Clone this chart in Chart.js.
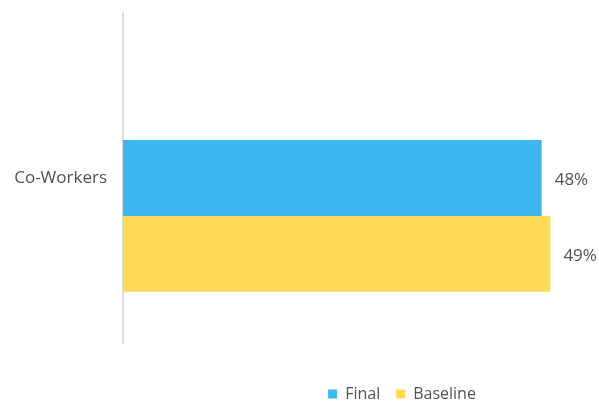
<!DOCTYPE html>
<html>
<head>
<meta charset="utf-8">
<script src="https://cdn.jsdelivr.net/npm/chart.js@4/dist/chart.umd.min.js"></script>
<style>
  html, body { margin: 0; padding: 0; background: #ffffff; }
  #wrap { width: 599px; height: 403px; position: relative; }
</style>
</head>
<body>
<div id="wrap"><canvas id="chart"></canvas></div>
<script>
// Survey result: share of respondents per group
const categories = ['Co-Workers'];
const finalValues = [48];
const baselineValues = [49];
const seriesNames = ['Final', 'Baseline'];

const TEXT = '#525252';
const FONT = "'Open Sans', 'DejaVu Sans', sans-serif";

// Value labels to the right of each bar
const barLabels = {
  id: 'barLabels',
  afterDatasetsDraw(chart) {
    const ctx = chart.ctx;
    ctx.save();
    ctx.font = '17px ' + FONT;
    ctx.fillStyle = TEXT;
    ctx.textAlign = 'left';
    ctx.textBaseline = 'middle';
    chart.data.datasets.forEach((ds, i) => {
      if (!ds.label) return;
      chart.getDatasetMeta(i).data.forEach((bar, j) => {
        const v = ds.data[j];
        if (v == null) return;
        ctx.fillText(v + '%', bar.x + 13, bar.y + 2.5);
      });
    });
    ctx.restore();
  }
};

// Nudge the legend block under the plot
const legendOffset = {
  id: 'legendOffset',
  afterLayout(chart) {
    const lg = chart.legend;
    if (!lg) return;
    const dx = 105, dy = 27;
    lg.left += dx; lg.right += dx;
    lg.top += dy; lg.bottom += dy;
  }
};

new Chart(document.getElementById('chart'), {
  type: 'bar',
  data: {
    labels: categories,
    datasets: [
      { label: '', data: [null], backgroundColor: 'rgba(0,0,0,0)' },
      { label: seriesNames[0], data: finalValues, backgroundColor: '#3DB7F1', borderWidth: 0 },
      { label: seriesNames[1], data: baselineValues, backgroundColor: '#FFDA56', borderWidth: 0 }
    ]
  },
  options: {
    indexAxis: 'y',
    responsive: true,
    maintainAspectRatio: false,
    animation: false,
    layout: { padding: { top: 13, right: 5, bottom: 18, left: 0 } },
    datasets: { bar: { categoryPercentage: 0.69, barPercentage: 1.0 } },
    scales: {
      x: {
        display: false,
        min: 0,
        max: 54
      },
      y: {
        afterFit(scale) {
          scale.width = 123;
          scale.paddingTop = 0;
          scale.paddingBottom = 0;
        },
        grid: { display: false, drawTicks: false },
        border: { display: true, color: '#dcdcdc', width: 2 },
        ticks: { color: TEXT, font: { family: FONT, size: 17 }, padding: 16 }
      }
    },
    plugins: {
      tooltip: { enabled: false },
      legend: {
        position: 'bottom',
        labels: {
          color: TEXT,
          font: { family: FONT, size: 16 },
          boxWidth: 9,
          boxHeight: 9,
          padding: 16,
          filter: (item) => item.text !== ''
        }
      }
    }
  },
  plugins: [barLabels, legendOffset]
});
</script>
</body>
</html>
